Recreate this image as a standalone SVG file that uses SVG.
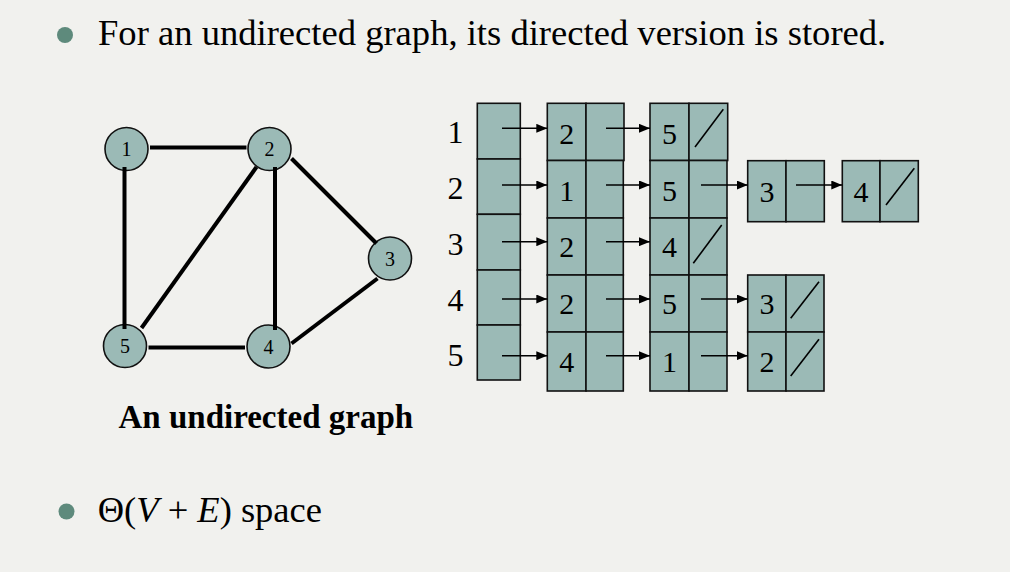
<svg xmlns="http://www.w3.org/2000/svg" width="1010" height="572" viewBox="0 0 1010 572">
<defs>
<style>
.t{font-family:"Liberation Serif","Times New Roman",serif;fill:#000}
.cell{fill:#9bbab6;stroke:#111;stroke-width:1.6}
.gn{fill:#9bbab6;stroke:#111;stroke-width:1.6}
.edge{stroke:#000;stroke-width:4;fill:none}
.arr{stroke:#000;stroke-width:1.6;fill:none;marker-end:url(#ah)}
.sl{stroke:#000;stroke-width:1.6}
.d{font-size:30px;text-anchor:middle}
.gl{font-size:20px;text-anchor:middle}
.bul{fill:#5e8a7c}
</style>
<marker id="ah" markerUnits="userSpaceOnUse" markerWidth="11" markerHeight="9" refX="11" refY="4.5" orient="auto">
<path d="M0,0 L11,4.5 L0,9 z" fill="#000"/>
</marker>
</defs>
<rect width="1010" height="572" fill="#f1f1ee"/>

<g id="header">
<circle class="bul" cx="65" cy="35" r="8"/>
<text class="t" x="98" y="45" font-size="36.6">For an undirected graph, its directed version is stored.</text>
</g>

<g id="v1"><circle class="gn" cx="126.5" cy="149" r="21.5"/><text class="t gl" x="126.5" y="156">1</text></g>
<g id="v2"><circle class="gn" cx="269.5" cy="149" r="21.5"/><text class="t gl" x="269.5" y="156">2</text></g>
<g id="v3"><circle class="gn" cx="390" cy="258.5" r="21.5"/><text class="t gl" x="390" y="265.5">3</text></g>
<g id="v4"><circle class="gn" cx="268.5" cy="346.5" r="21.5"/><text class="t gl" x="268.5" y="353.5">4</text></g>
<g id="v5"><circle class="gn" cx="125" cy="346" r="21.5"/><text class="t gl" x="125" y="353">5</text></g>

<g id="graph-caption">
<text class="t" x="118.5" y="427.5" font-size="33" font-weight="bold">An undirected graph</text>
</g>

<g id="array-labels" class="t" font-size="32" text-anchor="middle">
<text x="455.5" y="143.3">1</text>
<text x="455.5" y="199.3">2</text>
<text x="455.5" y="255">3</text>
<text x="455.5" y="310.7">4</text>
<text x="455.5" y="366">5</text>
</g>

<g id="array">
<rect class="cell" x="477.3" y="103.3" width="43" height="55.7"/>
<rect class="cell" x="477.3" y="159" width="43" height="55.3"/>
<rect class="cell" x="477.3" y="214.3" width="43" height="55.7"/>
<rect class="cell" x="477.3" y="270" width="43" height="55"/>
<rect class="cell" x="477.3" y="325" width="43" height="55"/>
</g>

<g id="n1a"><rect class="cell" x="547.3" y="103.3" width="38.7" height="57.2"/><rect class="cell" x="586" y="103.3" width="38" height="57.2"/><text class="t d" x="566.7" y="144">2</text></g>
<g id="n1b"><rect class="cell" x="650" y="103.3" width="39" height="57.2"/><rect class="cell" x="689" y="103.3" width="38.7" height="57.2"/><text class="t d" x="669.5" y="144">5</text><line class="sl" x1="695" y1="147" x2="723.3" y2="109.3"/></g>

<g id="n2a"><rect class="cell" x="547.3" y="160.5" width="38.7" height="57.5"/><rect class="cell" x="586" y="160.5" width="37.3" height="57.5"/><text class="t d" x="566.7" y="200.7">1</text></g>
<g id="n2b"><rect class="cell" x="650" y="160.5" width="39" height="57.5"/><rect class="cell" x="689" y="160.5" width="38" height="57.5"/><text class="t d" x="669.5" y="200.7">5</text></g>
<g id="n2c"><rect class="cell" x="747.7" y="160.7" width="38.3" height="61"/><rect class="cell" x="786" y="160.7" width="38.3" height="61"/><text class="t d" x="767" y="201.7">3</text></g>
<g id="n2d"><rect class="cell" x="842.3" y="160.7" width="37.7" height="61"/><rect class="cell" x="880" y="160.7" width="38.3" height="61"/><text class="t d" x="861" y="201.7">4</text><line class="sl" x1="886" y1="205" x2="914.3" y2="168.3"/></g>

<g id="n3a"><rect class="cell" x="547.3" y="218" width="38.7" height="57"/><rect class="cell" x="586" y="218" width="37.3" height="57"/><text class="t d" x="566.7" y="256.7">2</text></g>
<g id="n3b"><rect class="cell" x="650" y="218" width="39" height="57"/><rect class="cell" x="689" y="218" width="38" height="57"/><text class="t d" x="669.5" y="256.7">4</text><line class="sl" x1="693.3" y1="263.3" x2="721.7" y2="225"/></g>

<g id="n4a"><rect class="cell" x="547.3" y="275" width="38.7" height="57"/><rect class="cell" x="586" y="275" width="37.3" height="57"/><text class="t d" x="566.7" y="314">2</text></g>
<g id="n4b"><rect class="cell" x="650" y="275" width="39" height="57"/><rect class="cell" x="689" y="275" width="38" height="57"/><text class="t d" x="669.5" y="314">5</text></g>
<g id="n4c"><rect class="cell" x="747.7" y="275" width="38.3" height="57"/><rect class="cell" x="786" y="275" width="38" height="57"/><text class="t d" x="767" y="314">3</text><line class="sl" x1="790.7" y1="318.3" x2="819" y2="281.7"/></g>

<g id="n5a"><rect class="cell" x="547.3" y="332" width="38.7" height="59"/><rect class="cell" x="586" y="332" width="37.3" height="59"/><text class="t d" x="566.7" y="371.7">4</text></g>
<g id="n5b"><rect class="cell" x="650" y="332" width="39" height="59"/><rect class="cell" x="689" y="332" width="38" height="59"/><text class="t d" x="669.5" y="371.7">1</text></g>
<g id="n5c"><rect class="cell" x="747.7" y="332" width="38.3" height="59"/><rect class="cell" x="786" y="332" width="38" height="59"/><text class="t d" x="767" y="371.7">2</text><line class="sl" x1="790.7" y1="376" x2="819" y2="339.3"/></g>

<g id="connectors">
<line class="edge" x1="150" y1="147.5" x2="246.5" y2="147.5"/>
<line class="edge" x1="124.5" y1="167" x2="124.5" y2="329"/>
<line class="edge" x1="256.5" y1="167" x2="141.5" y2="328"/>
<line class="edge" x1="275" y1="167" x2="275" y2="330"/>
<line class="edge" x1="291.5" y1="158.5" x2="376.5" y2="243.5"/>
<line class="edge" x1="377.5" y1="278.5" x2="291.5" y2="343.5"/>
<line class="edge" x1="148.5" y1="347.5" x2="245" y2="347.5"/>

<line class="arr" x1="502" y1="128.3" x2="547.3" y2="128.3"/>
<line class="arr" x1="606" y1="128.3" x2="650" y2="128.3"/>
<line class="arr" x1="502" y1="185" x2="547.3" y2="185"/>
<line class="arr" x1="606" y1="185" x2="650" y2="185"/>
<line class="arr" x1="701" y1="185" x2="747.7" y2="185"/>
<line class="arr" x1="796" y1="185" x2="842.3" y2="185"/>
<line class="arr" x1="502" y1="241.7" x2="547.3" y2="241.7"/>
<line class="arr" x1="606" y1="241.7" x2="650" y2="241.7"/>
<line class="arr" x1="502" y1="299" x2="547.3" y2="299"/>
<line class="arr" x1="606" y1="299" x2="650" y2="299"/>
<line class="arr" x1="701" y1="299" x2="747.7" y2="299"/>
<line class="arr" x1="502" y1="355.7" x2="547.3" y2="355.7"/>
<line class="arr" x1="606" y1="355.7" x2="650" y2="355.7"/>
<line class="arr" x1="701" y1="355.7" x2="747.7" y2="355.7"/>
</g>

<g id="footer">
<circle class="bul" cx="66.5" cy="511.5" r="8"/>
<text class="t" x="97.7" y="522" font-size="36.5">Θ(<tspan font-style="italic">V</tspan> + <tspan font-style="italic">E</tspan>) space</text>
</g>
</svg>
